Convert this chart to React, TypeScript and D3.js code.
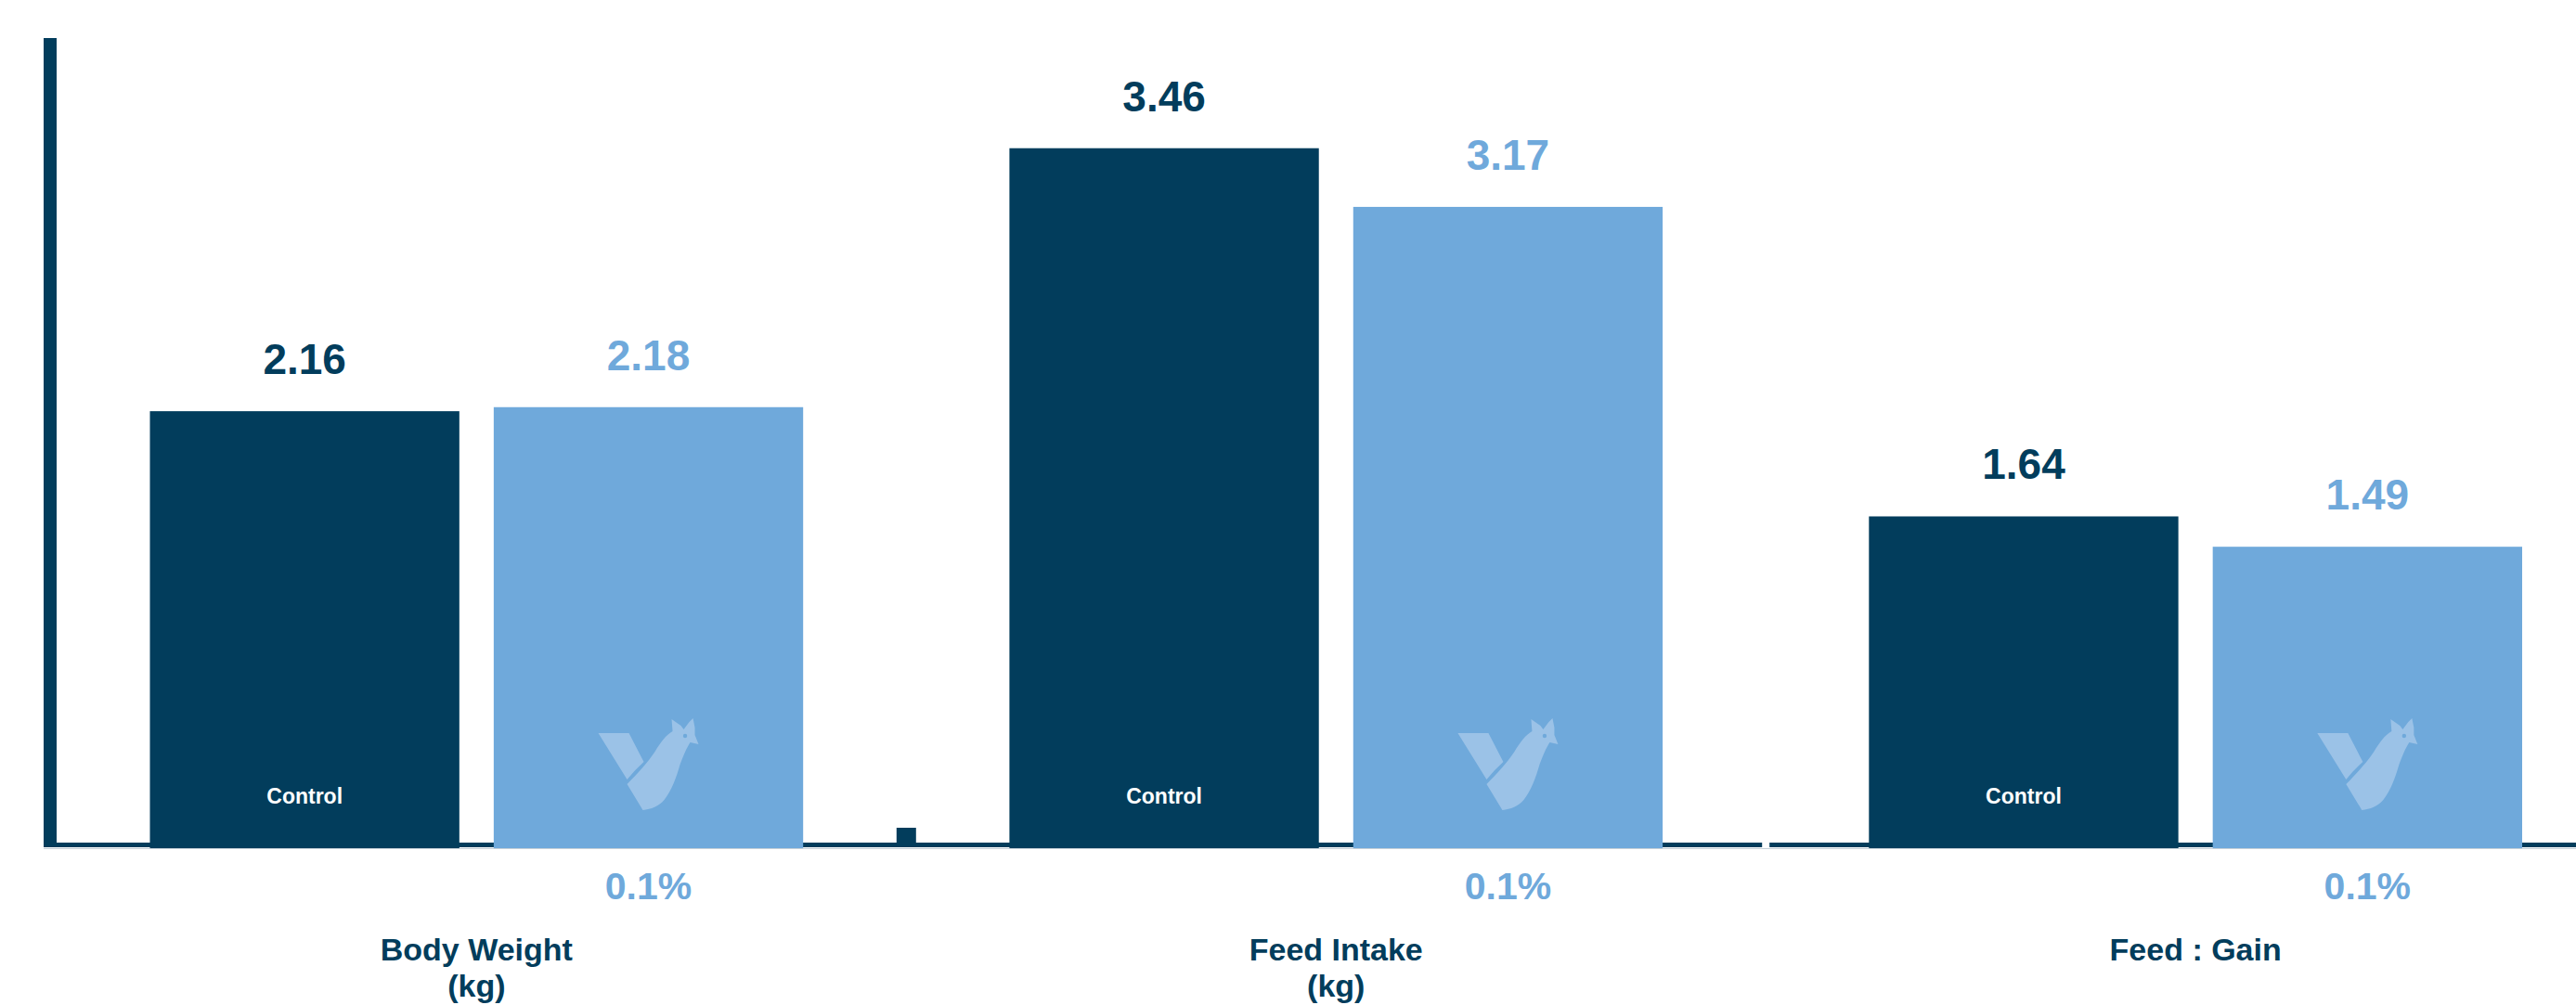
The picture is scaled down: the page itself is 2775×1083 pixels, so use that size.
import React from "react";
import * as d3 from "d3";

const groups = ["Body Weight", "Feed Intake", "Feed : Gain"];
const groupUnits = ["(kg)", "(kg)", ""];
const treatments = ["Control", "0.1%"];
const controlValues = [2.16, 3.46, 1.64];
const treatedValues = [2.18, 3.17, 1.49];
const valueLabels = [
  ["2.16", "3.46", "1.64"],
  ["2.18", "3.17", "1.49"],
];

const W = 2775;
const H = 1083;
const DARK = "#023d5c";
const LIGHT = "#6fa9db";
const LOGO = "#9bc2e7";
const FONT = "'Liberation Sans', Arial, Helvetica, sans-serif";

const ARM = "M19,30 L52,30 L68,61 Q58,70 50,80 Z";
const BODY =
  "M50,85 C60,75 72,62 80,50 C86,40 92,32 99,28 L98,15 L108,22 L111,26 L117,18 L121,14 L123,24 L123,32 L127,42 L118,40 C114,46 110,56 107,64 C103,78 98,92 90,102 C84,109 76,112 67,113 Z";

function Logo({ cx, top }: { cx: number; top: number }) {
  return (
    <g transform={`translate(${cx - 73},${top})`}>
      <path d={ARM} fill={LOGO} />
      <path d={BODY} fill={LOGO} />
      <circle cx={112.5} cy={33} r={2.2} fill={LIGHT} />
    </g>
  );
}

export default function App() {
  const x0 = d3.scaleBand<string>().domain(groups).range([161.5, 2717]).paddingInner(0.24).paddingOuter(0);
  const x1 = d3.scaleBand<string>().domain(treatments).range([0, x0.bandwidth()]).paddingInner(0.1);
  const y = d3.scaleLinear().domain([0, 4]).range([914, 42]);
  const base = y(0);

  const series = [controlValues, treatedValues];
  const colors = [DARK, LIGHT];

  // separators between groups
  const seps = groups.slice(1).map((g, i) => {
    const prevEnd = (x0(groups[i]) as number) + x0.bandwidth();
    const nextStart = x0(g) as number;
    return (prevEnd + nextStart) / 2;
  });

  return (
    <svg width={W} height={H} style={{ position: "absolute", left: 0, top: 0, background: "#fff" }}>
      {/* axes */}
      <rect x={47} y={y(4) - 1} width={14} height={base - y(4)} fill={DARK} />
      <rect x={47} y={base - 6} width={seps[1] - 4 - 47} height={5} fill={DARK} />
      <rect x={seps[1] + 4} y={base - 6} width={W - seps[1] - 4} height={5} fill={DARK} />
      <line x1={47} x2={W} y1={base + 0.5} y2={base + 0.5} stroke="#c5d0d8" strokeWidth={1} />
      <rect x={seps[0] - 10.5} y={base - 22} width={21} height={21} fill={DARK} />

      {groups.map((g, gi) => {
        const gx = x0(g) as number;
        return (
          <g key={g}>
            {treatments.map((t, ti) => {
              const bx = gx + (x1(t) as number);
              const bw = x1.bandwidth();
              const v = series[ti][gi];
              const cx = bx + bw / 2;
              return (
                <g key={t}>
                  <rect x={bx} y={y(v)} width={bw} height={base - y(v)} fill={colors[ti]} />
                  <text
                    x={cx}
                    y={y(v) - 40}
                    textAnchor="middle"
                    fontFamily={FONT}
                    fontWeight="bold"
                    fontSize={46}
                    fill={colors[ti]}
                  >
                    {valueLabels[ti][gi]}
                  </text>
                  {ti === 0 ? (
                    <text x={cx} y={866} textAnchor="middle" fontFamily={FONT} fontWeight="bold" fontSize={23} fill="#fff">
                      {t}
                    </text>
                  ) : (
                    <>
                      <Logo cx={cx} top={760} />
                      <text x={cx} y={969} textAnchor="middle" fontFamily={FONT} fontWeight="bold" fontSize={41} fill={LIGHT}>
                        {t}
                      </text>
                    </>
                  )}
                </g>
              );
            })}
            <text
              x={gx + x0.bandwidth() / 2}
              y={1035}
              textAnchor="middle"
              fontFamily={FONT}
              fontWeight="bold"
              fontSize={34}
              fill={DARK}
            >
              <tspan x={gx + x0.bandwidth() / 2}>{g}</tspan>
              {groupUnits[gi] ? (
                <tspan x={gx + x0.bandwidth() / 2} dy={39}>
                  {groupUnits[gi]}
                </tspan>
              ) : null}
            </text>
          </g>
        );
      })}
    </svg>
  );
}
